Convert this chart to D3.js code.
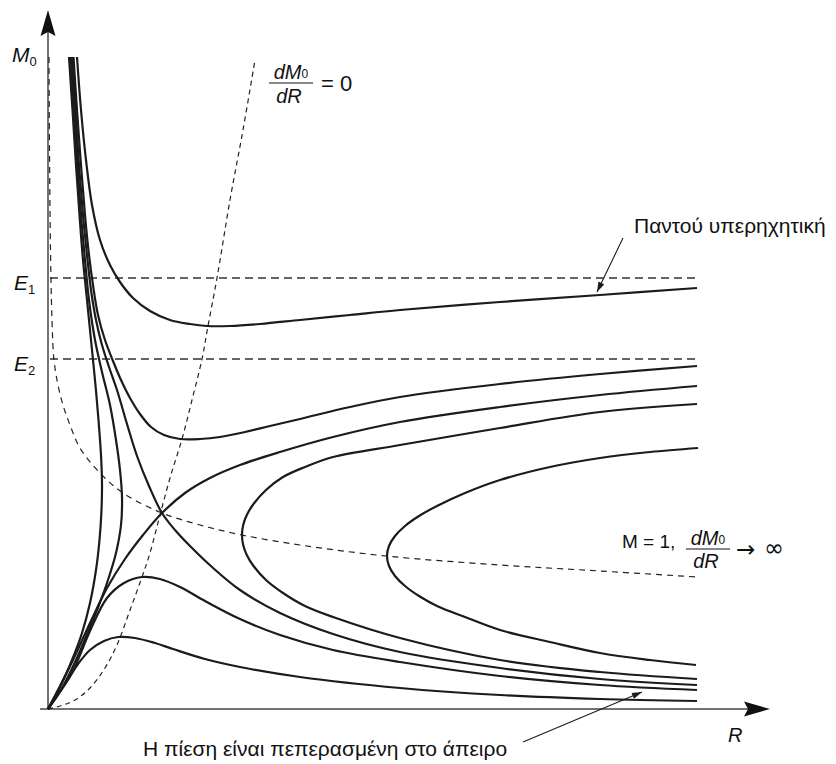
<!DOCTYPE html>
<html><head><meta charset="utf-8">
<script src="https://cdn.jsdelivr.net/npm/d3@7"></script>
<style>body{margin:0;background:#fff}svg{display:block}</style>
</head><body>
<svg id="c" width="836" height="764"></svg>
<script>
// ---- data: [R, M0] pairs (arbitrary units) ----
const alwaysSupersonic = [[2.9,65.2],[3.3,59.9],[3.8,54.9],[4.4,50.4],[5.2,46.9],[6.2,44.4],[7.2,42.7],[8.5,41.1],[10.2,39.8],[12.2,38.9],[14.2,38.5],[15.9,38.3],[18.2,38.3],[21.2,38.5],[25.2,38.9],[30.2,39.4],[35.2,39.9],[45.2,40.7],[55.2,41.4],[64.9,42.1]];
const upperMinCurve = [[2.55,65.2],[2.9,59.9],[3.3,54.4],[3.7,49.4],[4.1,45.4],[4.5,42.4],[5.0,39.4],[5.7,36.9],[6.5,34.8],[7.3,32.9],[8.2,31.1],[9.2,29.5],[10.3,28.2],[11.6,27.4],[13.2,27.0],[15.2,27.0],[17.2,27.2],[19.7,27.7],[22.2,28.3],[25.2,29.0],[30.2,30.2],[35.2,31.2],[45.2,32.5],[55.2,33.5],[64.9,34.3]];
const separatrixDown = [[2.4,65.2],[2.75,59.9],[3.1,54.4],[3.5,49.4],[3.9,45.4],[4.3,41.9],[4.8,38.9],[5.4,36.4],[6.1,34.2],[6.9,31.9],[7.9,28.5],[8.9,25.3],[10.1,22.3],[11.4,19.6],[12.7,17.9],[14.2,16.3],[16.4,14.2],[19.2,11.9],[23.2,9.6],[28.5,7.5],[35.2,5.7],[45.2,4.1],[55.2,3.0],[64.9,2.4]];
const separatrixUp = [[0,0],[1.2,2.3],[2.5,4.9],[4.2,8.6],[5.9,12.1],[7.7,15.0],[9.5,17.4],[11.4,19.6],[13.7,21.6],[16.2,23.1],[19.2,24.4],[23.2,25.7],[28.5,27.2],[35.2,28.7],[45.2,30.2],[55.2,31.4],[64.9,32.3]];
const turningCurve1 = [[2.1,65.2],[2.45,59.9],[2.8,54.4],[3.15,49.4],[3.5,44.9],[3.9,40.9],[4.3,36.9],[4.7,32.9],[5.05,28.9],[5.3,25.4],[5.4,22.6],[5.35,19.9],[5.15,16.9],[4.8,13.9],[4.2,10.6],[3.4,7.6],[2.4,4.9],[1.3,2.4],[0,0]];
const turningCurve2 = [[2.25,65.2],[2.6,59.9],[2.95,54.4],[3.3,49.4],[3.7,44.9],[4.1,40.9],[4.7,36.9],[5.4,33.7],[6.2,30.4],[6.8,26.9],[7.2,23.9],[7.4,21.2],[7.3,18.4],[6.8,15.6],[6.0,12.9],[5.1,10.4],[4.0,7.7],[2.8,4.9],[1.4,2.1],[0,0]];
const bumpCurve1 = [[0,0],[1.2,1.7],[2.5,3.8],[4.2,7.8],[5.9,11.1],[7.6,12.6],[9.4,13.2],[11.2,13.0],[13.2,12.2],[15.7,10.8],[19.2,9.0],[23.2,7.4],[28.5,5.9],[35.2,4.7],[45.2,3.3],[55.2,2.4],[64.9,1.9]];
const bumpCurve2 = [[0,0],[0.9,1.3],[1.9,2.8],[3.0,4.5],[4.2,5.9],[5.6,6.8],[7.0,7.2],[8.7,7.1],[10.7,6.6],[12.5,6.0],[15.7,5.0],[19.2,4.2],[25.2,3.2],[35.2,2.1],[45.2,1.4],[55.2,1.0],[64.9,0.8]];
const loopCurve1 = [[64.9,30.5],[55.2,29.7],[45.2,28.1],[35.2,26.4],[28.5,25.2],[25.7,24.2],[23.5,23.2],[21.8,21.9],[20.48,20.4],[19.88,19.4],[19.52,18.4],[19.4,17.4],[19.52,16.4],[19.88,15.4],[20.48,14.4],[21.8,12.9],[23.5,11.6],[25.7,10.3],[28.5,9.2],[35.2,7.1],[45.2,4.9],[55.2,3.7],[64.9,3.0]];
const loopCurve2 = [[65.0,26.1],[60.2,25.7],[55.2,25.1],[50.2,24.2],[45.2,22.9],[41.7,21.6],[38.9,20.3],[37.1,19.3],[35.7,18.3],[34.7,17.3],[34.1,16.3],[33.9,15.3],[34.1,14.3],[34.7,13.3],[35.7,12.3],[37.1,11.3],[38.9,10.3],[41.7,9.2],[45.2,7.9],[50.2,6.7],[55.2,5.6],[60.2,4.9],[64.8,4.4]];
const zeroSlopeLocus = [[0,0],[1.2,0.3],[2.7,0.9],[4.2,2.1],[5.7,4.1],[6.9,6.4],[8.2,9.9],[9.4,13.2],[10.2,15.6],[11.2,19.4],[12.2,23.1],[13.4,27.0],[14.4,30.9],[15.4,35.0],[16.0,38.3],[16.9,43.1],[18.2,50.9],[19.5,57.9],[20.7,64.9]];
const sonicLocus = [[0.1,65.2],[0.15,55.9],[0.25,45.9],[0.4,38.9],[0.6,34.9],[1.0,32.4],[1.5,30.4],[2.2,28.4],[3.2,26.1],[5.2,23.6],[7.5,21.6],[11.4,19.6],[15.2,18.4],[19.4,17.4],[25.2,16.4],[33.8,15.3],[45.2,14.4],[55.2,13.8],[64.9,13.2]];
const energyLevels = [43.1, 35.0];
const energyLabels = ["1", "2"];
const energyLineEnd = 64.9;
const domainR = [0, 72.2];
const domainM = [0, 69.9];

const solidCurves = [alwaysSupersonic, upperMinCurve, separatrixDown, separatrixUp, turningCurve1, turningCurve2, bumpCurve1, bumpCurve2, loopCurve1, loopCurve2];

// ---- drawing ----
const svg = d3.select("#c");
const x = d3.scaleLinear().domain(domainR).range([48, 770]);
const y = d3.scaleLinear().domain(domainM).range([709, 10]);
const line = d3.line().x(d => x(d[0])).y(d => y(d[1])).curve(d3.curveCatmullRom.alpha(0.5));
const FONT = "'Liberation Sans', Arial, Helvetica, sans-serif";
const INK = "#1b1b1b";

// axes
const ax = svg.append("g");
ax.append("line").attr("x1", x(0)).attr("x2", x(0)).attr("y1", y(0)).attr("y2", y(domainM[1]) + 20)
  .attr("stroke", "#444").attr("stroke-width", 1.5);
ax.append("line").attr("x1", x(0) - 8).attr("x2", x(domainR[1]) - 20).attr("y1", y(0)).attr("y2", y(0))
  .attr("stroke", "#444").attr("stroke-width", 1.5);
const tipY = [x(0), y(domainM[1])];
ax.append("path").attr("d", `M${tipY[0]},${tipY[1]} L${tipY[0]-7.5},${tipY[1]+26} L${tipY[0]},${tipY[1]+22} L${tipY[0]+7.5},${tipY[1]+26} Z`).attr("fill", "#111");
const tipX = [x(domainR[1]), y(0)];
ax.append("path").attr("d", `M${tipX[0]},${tipX[1]} L${tipX[0]-26},${tipX[1]-7.5} L${tipX[0]-22},${tipX[1]} L${tipX[0]-26},${tipX[1]+7.5} Z`).attr("fill", "#111");

// dashed energy levels
svg.selectAll("line.energy").data(energyLevels).join("line").attr("class", "energy")
  .attr("x1", x(0.2)).attr("x2", x(energyLineEnd)).attr("y1", d => y(d)).attr("y2", d => y(d))
  .attr("stroke", "#333").attr("stroke-width", 1.3).attr("stroke-dasharray", "8,5");

// dashed loci
svg.append("path").attr("d", line(zeroSlopeLocus)).attr("fill", "none").attr("stroke", "#222")
  .attr("stroke-width", 1.2).attr("stroke-dasharray", "5,4");
svg.append("path").attr("d", line(sonicLocus)).attr("fill", "none").attr("stroke", "#222")
  .attr("stroke-width", 1.2).attr("stroke-dasharray", "6,5");

// solid solution curves
svg.selectAll("path.sol").data(solidCurves).join("path").attr("class", "sol")
  .attr("d", d => line(d)).attr("fill", "none").attr("stroke", INK).attr("stroke-width", 2.2)
  .attr("stroke-linejoin", "round");

// annotation arrows
function arrow(x1, y1, x2, y2) {
  svg.append("line").attr("x1", x1).attr("y1", y1).attr("x2", x2).attr("y2", y2).attr("stroke", INK).attr("stroke-width", 1.1);
  const a = Math.atan2(y2 - y1, x2 - x1), L = 10, w = 3.2;
  const bx = x2 - L * Math.cos(a), by = y2 - L * Math.sin(a);
  svg.append("path").attr("d", `M${x2},${y2} L${bx - w*Math.sin(a)},${by + w*Math.cos(a)} L${bx + w*Math.sin(a)},${by - w*Math.cos(a)} Z`).attr("fill", INK);
}
arrow(x(57.5), y(47.1), x(54.9), y(41.7));
arrow(x(47.5), y(-3.3), x(59.4), y(1.7));

// text helpers
function txt(px, py, size, opts = {}) {
  return svg.append("text").attr("x", px).attr("y", py).attr("font-family", opts.family || FONT).attr("font-size", size)
    .attr("fill", "#111").attr("text-anchor", opts.anchor || "start").attr("font-style", opts.italic ? "italic" : "normal");
}
// axis labels
let t = txt(12, 62, 21, {italic: true}); t.append("tspan").text("M");
t.append("tspan").attr("font-style", "normal").attr("font-size", 13).attr("dy", 4).text("0");
txt(728, 742, 20, {italic: true}).text("R");
energyLevels.forEach((e, i) => {
  const g = txt(14, y(e) + 12, 21, {italic: true});
  g.append("tspan").text("E");
  g.append("tspan").attr("font-style", "normal").attr("font-size", 13).attr("dy", 4).text(energyLabels[i]);
});

// fractions
function fraction(cx, baseTop, lineY, baseBot, width) {
  const n = txt(cx, baseTop, 20, {italic: true, anchor: "middle"});
  n.append("tspan").text("dM");
  n.append("tspan").attr("font-style", "normal").attr("font-size", 12).attr("dy", -1).text("0");
  svg.append("line").attr("x1", cx - width / 2).attr("x2", cx + width / 2).attr("y1", lineY).attr("y2", lineY).attr("stroke", "#111").attr("stroke-width", 1.1);
  txt(cx - 2, baseBot, 20, {italic: true, anchor: "middle"}).text("dR");
}
fraction(291, 79, 83, 103, 44);
txt(321, 91, 22).text("= 0");
txt(622, 548, 19).text("M = 1,");
fraction(708, 545, 549, 568, 44);
txt(736, 557, 23, {family: "'DejaVu Sans', sans-serif"}).text("→");
txt(764, 556, 24, {family: "'DejaVu Sans', sans-serif"}).text("∞");

// Greek notes
txt(634, 233, 21).text("Παντού υπερηχητική");
txt(143, 756, 21).text("Η πίεση είναι πεπερασμένη στο άπειρο");
</script>
</body></html>
